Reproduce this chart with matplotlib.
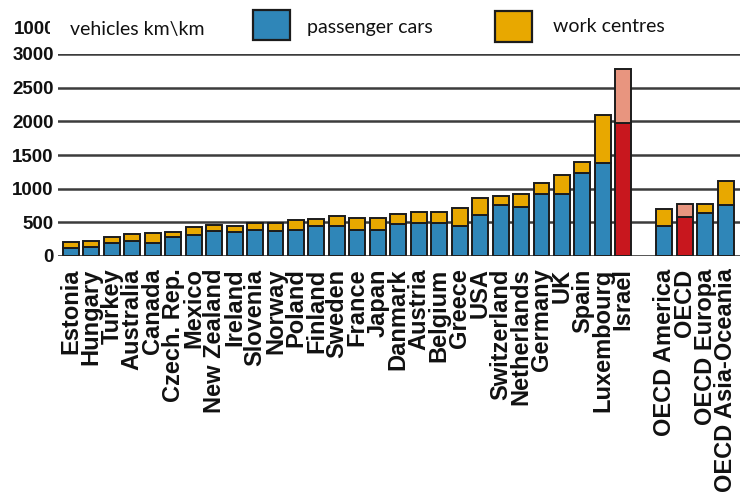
import matplotlib
matplotlib.use("Agg")
import matplotlib.pyplot as plt
from matplotlib.patches import Rectangle
from matplotlib.transforms import Bbox

countries = ["Estonia", "Hungary", "Turkey", "Australia", "Canada", "Czech. Rep.",
             "Mexico", "New Zealand", "Ireland", "Slovenia", "Norway", "Poland",
             "Finland", "Sweden", "France", "Japan", "Danmark", "Austria", "Belgium",
             "Greece", "USA", "Switzerland", "Netherlands", "Germany", "UK", "Spain",
             "Luxembourg", "Israel"]
regions = ["OECD America", "OECD", "OECD Europa", "OECD Asia-Oceania"]

# vehicle-km per km of road, split by vehicle type
cars_countries = [125, 139, 198, 223, 188, 277, 312, 376, 361, 390, 375, 386,
                  445, 445, 386, 386, 475, 495, 495, 445, 614, 752, 733, 925,
                  921, 1227, 1386, 1980]
work_countries = [88, 89, 89, 99, 158, 84, 124, 84, 89, 100, 115, 149,
                  100, 154, 174, 174, 149, 163, 163, 263, 252, 139, 188, 164,
                  282, 164, 708, 792]
cars_regions = [445, 584, 644, 757]
work_regions = [253, 188, 128, 357]

highlight = {"Israel", "OECD"}

BLUE = "#2f86b8"
GOLD = "#e8a800"
RED = "#c8171e"
PINK = "#e8957f"
EDGE = "#1c1c1c"

labels = countries + regions
cars = cars_countries + cars_regions
work = work_countries + work_regions
xs = list(range(len(countries))) + [len(countries) + 1 + i for i in range(len(regions))]

fig = plt.figure(figsize=(7.4, 4.93), dpi=100)
ax = fig.add_axes([58 / 740, 1 - 256 / 493, 1 - 58 / 740, (256 - 54) / 493])

low_c = [RED if l in highlight else BLUE for l in labels]
top_c = [PINK if l in highlight else GOLD for l in labels]
ax.bar(xs, cars, width=0.78, color=low_c, edgecolor=EDGE, linewidth=1.4, zorder=3)
ax.bar(xs, work, bottom=cars, width=0.78, color=top_c, edgecolor=EDGE,
       linewidth=1.4, zorder=3)

ax.set_xlim(-0.63, 32.7)
ax.set_ylim(0, 3000)
ax.set_yticks(range(0, 3001, 500))
for y in range(500, 3001, 500):
    ax.axhline(y, color="#3c3c3c", lw=1.8, zorder=1)
ax.axhline(0, color="#222222", lw=1.8, zorder=4)

for s in ax.spines.values():
    s.set_visible(False)
ax.tick_params(length=0)
ax.tick_params(axis="y", pad=3)
ax.tick_params(axis="x", pad=9)

num_font = ["Liberation Sans", "DejaVu Sans"]
ax.set_yticklabels([str(v) for v in range(0, 3001, 500)], family=num_font,
                   fontsize=13.5, fontweight="bold", color="#111111")
ax.set_xticks(xs)
ax.set_xticklabels(labels, rotation=90, ha="center", va="top",
                   family=["Liberation Sans", "DejaVu Sans"], fontsize=17,
                   fontweight="bold", color="#111111")

# stray axis label above the top, partly covered by the unit text
t = fig.text(55 / 740, 1 - 30 / 493, "1000", ha="right", va="center",
             family=num_font, fontsize=13.5, fontweight="bold", color="#111111")
t.set_clip_box(Bbox.from_extents(0, 0, 50, 493))
t.set_clip_on(True)

legend_font = ["Lato", "DejaVu Sans"]
fig.text(70 / 740, 1 - 29 / 493, "vehicles km\\km", ha="left", va="center",
         family=legend_font, fontsize=14, color="#111111")
fig.add_artist(Rectangle((253 / 740, 1 - 40 / 493), 37 / 740, 30 / 493,
                         facecolor=BLUE, edgecolor=EDGE, lw=1.6,
                         transform=fig.transFigure))
fig.text(307 / 740, 1 - 27 / 493, "passenger cars", ha="left", va="center",
         family=legend_font, fontsize=14, color="#111111")
fig.add_artist(Rectangle((495 / 740, 1 - 42 / 493), 37 / 740, 31 / 493,
                         facecolor=GOLD, edgecolor=EDGE, lw=1.6,
                         transform=fig.transFigure))
fig.text(553 / 740, 1 - 27 / 493, "work centres", ha="left", va="center",
         family=legend_font, fontsize=14, color="#111111")

fig.savefig("out.png", dpi=100)
